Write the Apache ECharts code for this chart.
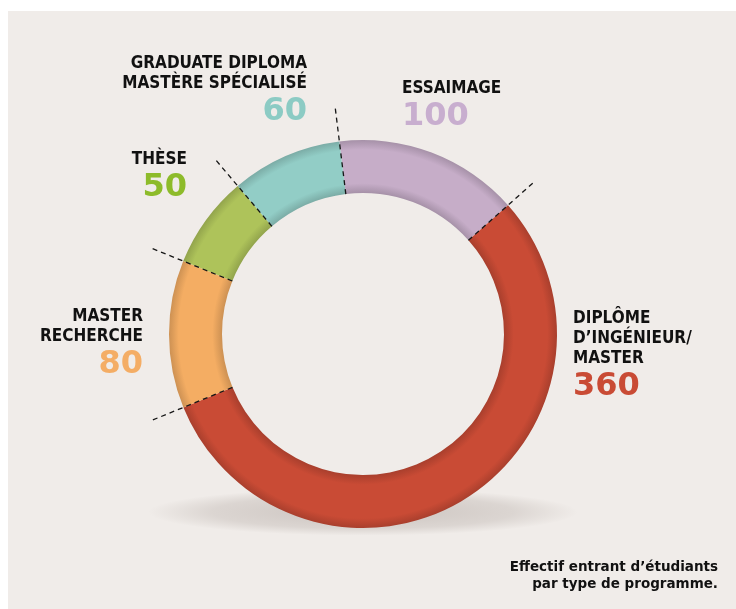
<!DOCTYPE html>
<html>
<head>
<meta charset="utf-8">
<title>Effectif entrant par type de programme</title>
<script src="https://cdn.jsdelivr.net/npm/echarts@6/dist/echarts.min.js"></script>
<style>
  html, body { margin: 0; padding: 0; background: #fff; }
  #chart { width: 736px; height: 609px; }
</style>
</head>
<body>
<div id="chart"></div>
<script>
// data, clockwise from the top
const programmes = ['ESSAIMAGE', 'DIPLÔME\nD’INGÉNIEUR/\nMASTER', 'MASTER\nRECHERCHE', 'THÈSE', 'GRADUATE DIPLOMA\nMASTÈRE SPÉCIALISÉ']
const effectifs = [100, 360, 80, 50, 60]
const note = 'Effectif entrant d’étudiants\npar type de programme.'

// styles
const ringColors = ['#c6adc8', '#c94b35', '#f4ad63', '#aec35a', '#92cdc6']
const valueColors = ['#c8aecf', '#c94b35', '#f4ad65', '#8dbb2a', '#8ccbc4']
// label anchor: x, baseline of first line, align
const labelPos = [[402, 95, 'left'], [573, 325, 'left'], [143, 323, 'right'], [187, 166, 'right'], [307, 70, 'right']]

const cx = 363, cy = 334, r0 = 141, r1 = 194, tickR = 228
const startAngle = 97
const nameFont = 'bold 17px "Liberation Sans Narrow", "DejaVu Sans Condensed", sans-serif'
const valueFont = 'bold 32px "DejaVu Sans", sans-serif'

function shade(hex, k) {
  const n = parseInt(hex.slice(1), 16)
  const c = [n >> 16, (n >> 8) & 255, n & 255].map(v => Math.round(v * k))
  return 'rgb(' + c.join(',') + ')'
}

// darker rims to give the ring a bit of volume
function ringFill(hex) {
  return {
    type: 'radial', x: cx, y: cy, r: r1, global: true,
    colorStops: [
      { offset: 0, color: shade(hex, 0.8) },
      { offset: r0 / r1, color: shade(hex, 0.84) },
      { offset: r0 / r1 + 0.05, color: hex },
      { offset: 0.95, color: hex },
      { offset: 1, color: shade(hex, 0.84) }
    ]
  }
}

const total = effectifs.reduce((a, b) => a + b, 0)
const bounds = []
let acc = 0
effectifs.forEach(v => {
  bounds.push([tickR, acc])
  acc += v
})

const labels = []
programmes.forEach((name, i) => {
  const [x, base, align] = labelPos[i]
  const lines = name.split('\n').length
  labels.push({
    type: 'text', x: x, y: base - 16, z: 5,
    style: { text: name, font: nameFont, fill: '#111', align: align, verticalAlign: 'top', lineHeight: 20 }
  })
  labels.push({
    type: 'text', x: x, y: base + (lines - 1) * 20 + 32 - 10, z: 5,
    style: { text: String(effectifs[i]), font: valueFont, fill: valueColors[i], align: align, verticalAlign: 'middle' }
  })
})

const chart = echarts.init(document.getElementById('chart'))
chart.setOption({
  animation: false,
  backgroundColor: '#fff',
  graphic: [
    { type: 'rect', z: -20, shape: { x: 8, y: 11, width: 728, height: 598 }, style: { fill: '#f0ece9' } },
    {
      type: 'circle', z: -10, x: cx, y: 512, scaleY: 0.11,
      shape: { cx: 0, cy: 0, r: 215 },
      style: {
        fill: {
          type: 'radial', x: 0.5, y: 0.5, r: 0.5,
          colorStops: [
            { offset: 0, color: 'rgba(70,50,40,0.22)' },
            { offset: 0.7, color: 'rgba(70,50,40,0.12)' },
            { offset: 1, color: 'rgba(70,50,40,0)' }
          ]
        }
      }
    },
    ...labels,
    {
      type: 'text', x: 718, y: 559, z: 5,
      style: { text: note, font: 'bold 13.5px "DejaVu Sans", sans-serif', fill: '#111', align: 'right', verticalAlign: 'top', lineHeight: 17 }
    }
  ],
  polar: { center: [cx, cy], radius: [0, tickR] },
  angleAxis: {
    type: 'value', min: 0, max: total, startAngle: startAngle, clockwise: true, show: false,
    axisLine: { show: false }, splitLine: { show: false }, axisTick: { show: false }, axisLabel: { show: false }
  },
  radiusAxis: {
    type: 'value', min: 0, max: tickR, show: false,
    axisLine: { show: false }, splitLine: { show: false }, axisTick: { show: false }, axisLabel: { show: false }
  },
  series: [
    {
      type: 'pie',
      z: 2,
      silent: true,
      center: [cx, cy],
      radius: [r0, r1],
      startAngle: startAngle,
      clockwise: true,
      label: { show: false },
      labelLine: { show: false },
      data: programmes.map((n, i) => ({
        name: n,
        value: effectifs[i],
        itemStyle: { color: ringFill(ringColors[i]) }
      }))
    },
    {
      // dashed separators between the slices
      type: 'custom',
      coordinateSystem: 'polar',
      z: 3,
      silent: true,
      data: bounds,
      renderItem: (params, api) => {
        const a = api.value(1)
        const p0 = api.coord([r0, a])
        const p1 = api.coord([tickR, a])
        return {
          type: 'line',
          shape: { x1: p0[0], y1: p0[1], x2: p1[0], y2: p1[1] },
          style: { stroke: '#161616', lineWidth: 1.3, lineDash: [5, 4] }
        }
      }
    }
  ]
})
</script>
</body>
</html>
